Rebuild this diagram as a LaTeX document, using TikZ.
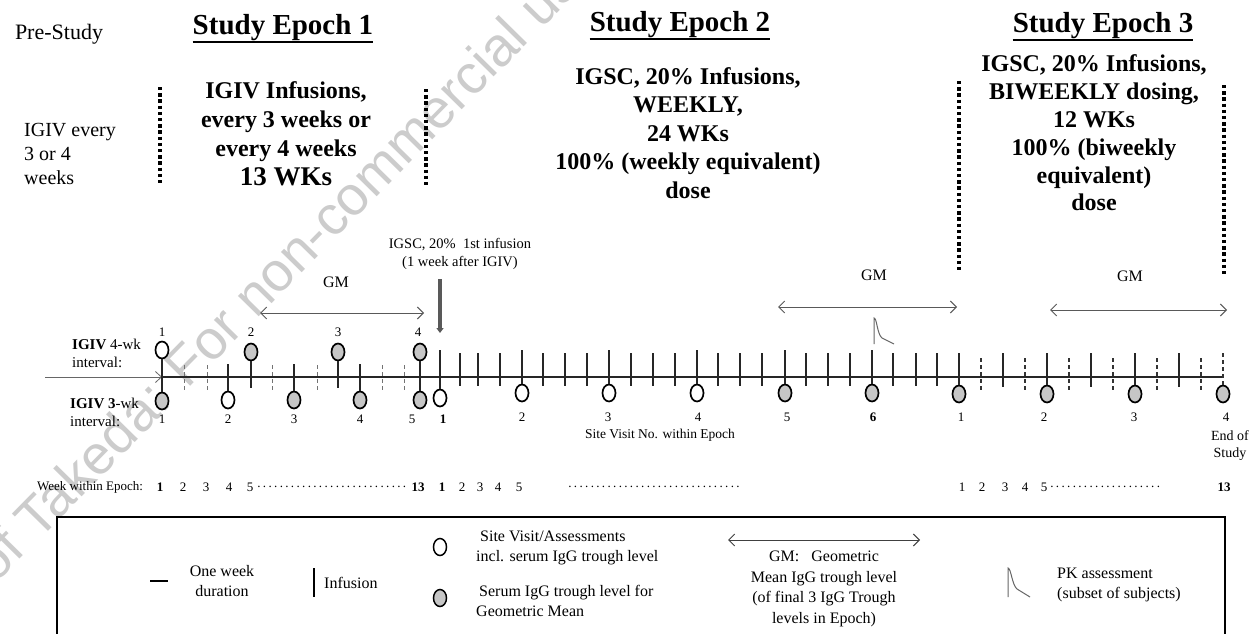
\documentclass[tikz,border=0pt]{standalone}
\usepackage{fontspec}
\setmainfont{Liberation Serif}
\newfontfamily\wmfont{Liberation Sans}
\usetikzlibrary{shapes.geometric,arrows.meta}
\newcommand\fsz[2]{\fontsize{#1}{#2}\selectfont}
\newcommand\dotrow[1]{\hbox to #1pt{\leaders\hbox to 5.6pt{\hss.\hss}\hfill}}
\begin{document}
\begin{tikzpicture}[x=1pt,y=-1pt,
  tx/.style={inner sep=0pt},
  hd/.style={inner sep=0pt,font=\bfseries\fsz{29}{32}},
  desc/.style={inner sep=0pt,align=center,font=\bfseries\fsz{24}{28}},
  num/.style={inner sep=0pt,font=\fsz{13}{15}},
  leg/.style={inner sep=0pt,font=\fsz{16}{20}},
  ov/.style={ellipse,draw=black,line width=1.7pt,fill=white,minimum width=13pt,minimum height=17pt,inner sep=0pt},
  gv/.style={ov,fill=gray!45},
  mainline/.style={line width=2pt,black!85},
  itick/.style={line width=2pt,black!85},
  rtick/.style={line width=1.7pt,black!85},
  dtick/.style={line width=0.9pt,black!55,dash pattern=on 4pt off 3pt},
  dtickB/.style={line width=1.3pt,black!80,dash pattern=on 4pt off 3pt},
  divl/.style={line width=3.6pt,dash pattern=on 3.4pt off 2.8pt},
  gmarrow/.style={line width=1pt,black!65,{Straight Barb[length=6pt,width=12pt]}-{Straight Barb[length=6pt,width=12pt]}},
  pk/.style={line width=1pt,black!60}
]
\useasboundingbox (0,0) rectangle (1252,634);
\clip (0,0) rectangle (1252,634);
\fill[white] (0,0) rectangle (1252,634);

% watermark
\node[inner sep=0pt,rotate=45.5,anchor=base west,text=black!20,font=\wmfont\fsz{55}{60}] (wm) at (-161,744)
  {Property of Takeda: For non-commercial use only and subject to the applicable Terms of Use};

% headings
\node[tx,font=\fsz{22}{24}] (pre) at (59,34) {Pre-Study};
\node[hd] (h1) at (283,28) {Study Epoch 1};
\node[hd] (h2) at (680,25) {Study Epoch 2};
\node[hd] (h3) at (1103,26) {Study Epoch 3};
\foreach \h in {h1,h2,h3}
  \draw[line width=2pt] ([yshift=-0.5pt]\h.south west) -- ([yshift=-0.5pt]\h.south east);

\node[tx,anchor=west,align=left,font=\fsz{20}{24}] (pretx) at (24,154) {IGIV every\\3 or 4\\weeks};
\node[desc,font=\bfseries\fsz{24}{29}] (d1) at (286,134) {IGIV Infusions,\\every 3 weeks or\\every 4 weeks\\{\fsz{27}{29}13 WKs}};
\node[desc,font=\bfseries\fsz{24}{28.5}] (d2) at (688,133) {IGSC, 20\% Infusions,\\WEEKLY,\\24 WKs\\100\% (weekly equivalent)\\dose};
\node[desc,font=\bfseries\fsz{24}{27.8}] (d3) at (1094,133) {IGSC, 20\% Infusions,\\BIWEEKLY dosing,\\12 WKs\\100\% (biweekly\\equivalent)\\dose};

% dividers
\draw[divl] (160,87) -- (160,184);
\draw[divl] (426,89) -- (426,186);
\draw[divl] (959,81) -- (959,272);
\draw[divl] (1224,85) -- (1224,276);

% timeline
\coordinate (in0) at (45,377);
\coordinate (tl0) at (162,377);
\coordinate (tl1) at (1223,377);
\draw[line width=0.8pt,black!60,-{Straight Barb[length=6pt,width=11pt]}] (in0) -- (tl0);
\draw[mainline] (tl0) -- (tl1);

% row labels
\node[tx,anchor=west,align=left,font=\fsz{15}{18}] (r4) at (72,353) {\textbf{IGIV} 4-wk\\interval:};
\node[tx,anchor=west,align=left,font=\fsz{15}{18}] (r3) at (70,412) {\textbf{IGIV 3}-wk\\interval:};

% Epoch 1
\foreach \x in {184,207,272,317,382,404} \draw[dtick] (\x,365) -- (\x,392);
\node[ov] (a0u) at (162,350) {};
\node[gv] (a0l) at (162,401) {};
\draw[itick] (a0u.south) -- (a0l.north);
\node[ov] (t1) at (228,400) {};
\node[gv] (t2) at (294,400) {};
\node[gv] (t3) at (360,400) {};
\foreach \c/\x in {t1/228,t2/294,t3/360} \draw[itick] (\x,364) -- (\c.north);
\node[gv] (f1) at (251,352) {};
\node[gv] (f2) at (338,352) {};
\foreach \c/\x in {f1/251,f2/338} \draw[itick] (\c.south) -- (\x,388);
\node[gv] (a12u) at (420,352) {};
\node[gv] (a12l) at (420,400) {};
\draw[itick] (a12u.south) -- (a12l.north);
\foreach \t/\x in {1/162,2/251,3/338,4/418} \node[num] (n4w\t) at (\x,332) {\t};
\foreach \t/\x in {1/162,2/228,3/294,4/360,5/412} \node[num] (n3w\t) at (\x,419) {\t};

% Epoch 2
\foreach \x in {460,478,500,543,565,587,631,653,675,718,740,762,806,828,850,893,916,937}
  \draw[rtick] (\x,353) -- (\x,386);
\node[ov] (e2v1) at (440,398) {};
\node[ov] (e2v2) at (522,393) {};
\node[ov] (e2v3) at (609,393) {};
\node[ov] (e2v4) at (697,393) {};
\node[gv] (e2v5) at (785,393) {};
\node[gv] (e2v6) at (872,393) {};
\foreach \c/\x in {e2v1/440,e2v2/522,e2v3/609,e2v4/697,e2v5/785,e2v6/872}
  \draw[itick] (\x,350) -- (\c.north);
\node[num,font=\bfseries\fsz{13}{15}] (m1) at (443,419) {1};
\foreach \t/\x in {2/522,3/608,4/698,5/787} \node[num] (m\t) at (\x,417) {\t};
\node[num,font=\bfseries\fsz{13}{15}] (m6) at (873,417) {6};
\node[num,font=\fsz{13.5}{15}] (svn) at (660,435) {Site Visit No. within Epoch};

% Epoch 3
\foreach \x in {1003,1091,1179} \draw[rtick] (\x,353) -- (\x,387);
\foreach \x in {981,1025,1069,1113,1157,1201} \draw[dtickB] (\x,358) -- (\x,392);
\node[gv] (e3v1) at (959,394) {};
\node[gv] (e3v2) at (1047,394) {};
\node[gv] (e3v3) at (1135,394) {};
\node[gv] (e3v4) at (1223,394) {};
\foreach \c/\x in {e3v1/959,e3v2/1047,e3v3/1135} \draw[itick] (\x,353) -- (\c.north);
\draw[dtickB] (1223,353) -- (e3v4.north);
\foreach \t/\x in {1/961,2/1044,3/1134,4/1226} \node[num] (p\t) at (\x,417) {\t};
\node[tx,align=center,font=\fsz{14}{17}] (eos) at (1230,446) {End of\\Study};

% GM arrows
\coordinate (g1a) at (260,313); \coordinate (g1b) at (424,313);
\draw[gmarrow] (g1a) -- (g1b);
\node[tx,font=\fsz{16}{18}] (gm1) at (336,282) {GM};
\coordinate (g2a) at (778,307); \coordinate (g2b) at (957,307);
\draw[gmarrow] (g2a) -- (g2b);
\node[tx,font=\fsz{16}{18}] (gm2) at (874,275) {GM};
\coordinate (g3a) at (1050,310); \coordinate (g3b) at (1227,310);
\draw[gmarrow] (g3a) -- (g3b);
\node[tx,font=\fsz{16}{18}] (gm3) at (1130,276) {GM};

% first IGSC infusion
\node[tx,align=center,font=\fsz{14.5}{18}] (igsc) at (460,254) {IGSC, 20\%~~1st infusion\\(1 week after IGIV)};
\coordinate (ia) at (440,279); \coordinate (ib) at (440,333);
\draw[line width=3.2pt,black!65,-{Triangle[length=5pt,width=7pt]}] (ia) -- (ib);

% PK on timeline
\draw[pk] (874,344) -- (874,318) .. controls (877,318) and (877,334) .. (882,338) -- (894,344);

% week within epoch
\node[tx,anchor=west,font=\fsz{13}{15}] (wwe) at (37,487) {Week within Epoch:};
\foreach \t/\x in {2/183,3/206,4/229,5/250} \node[num] (wa\t) at (\x,487) {\t};
\node[num,font=\bfseries\fsz{13}{15}] (wa1) at (160,487) {1};
\node[num,anchor=west] (wad) at (256,487) {\dotrow{154}};
\node[num,font=\bfseries\fsz{13}{15}] (wa13) at (418,487) {13};
\node[num,font=\bfseries\fsz{13}{15}] (wb1) at (442,487) {1};
\foreach \t/\x in {2/462,3/480,4/498,5/519} \node[num] (wb\t) at (\x,487) {\t};
\node[num,anchor=west] (wbd) at (567,487) {\dotrow{174}};
\foreach \t/\x in {1/962,2/982,3/1005,4/1025,5/1044} \node[num] (wc\t) at (\x,487) {\t};
\node[num,anchor=west] (wcd) at (1049,487) {\dotrow{112}};
\node[num,font=\bfseries\fsz{13}{15}] (wc13) at (1224,487) {13};

% legend
\draw[line width=1.2pt] (57,640) -- (57,517) -- (1225,517) -- (1225,640);
\coordinate (lw1) at (150,581); \coordinate (lw2) at (168,581);
\draw[line width=2pt] (lw1) -- (lw2);
\node[leg,align=center] (l1) at (222,581) {One week\\duration};
\coordinate (li1) at (314,568); \coordinate (li2) at (314,597);
\draw[line width=2.2pt] (li1) -- (li2);
\node[leg,anchor=west] (l2) at (324,583) {Infusion};
\node[ov,line width=1.5pt] (lo) at (440,547) {};
\node[leg,anchor=west,align=left] (l3) at (476,548) {\hspace{4pt}Site Visit/Assessments\\incl. serum IgG trough level};
\node[gv,line width=1.5pt] (lg) at (440,598) {};
\node[leg,anchor=west,align=left] (l4) at (476,601) {\hspace{3pt}Serum IgG trough level for\\Geometric Mean};
\coordinate (lga) at (728,540); \coordinate (lgb) at (920,540);
\draw[gmarrow,black!75] (lga) -- (lgb);
\node[leg,align=center,font=\fsz{16}{20.5}] (l5) at (824,589) {GM:~~~Geometric\\Mean IgG trough level\\(of final 3 IgG Trough\\levels in Epoch)};
\draw[pk] (1008,597) -- (1008,568) .. controls (1011,568) and (1012,585) .. (1017,589) -- (1030,597);
\node[leg,anchor=west,align=left] (l6) at (1057,585) {PK assessment\\(subset of subjects)};
\end{tikzpicture}
\end{document}
